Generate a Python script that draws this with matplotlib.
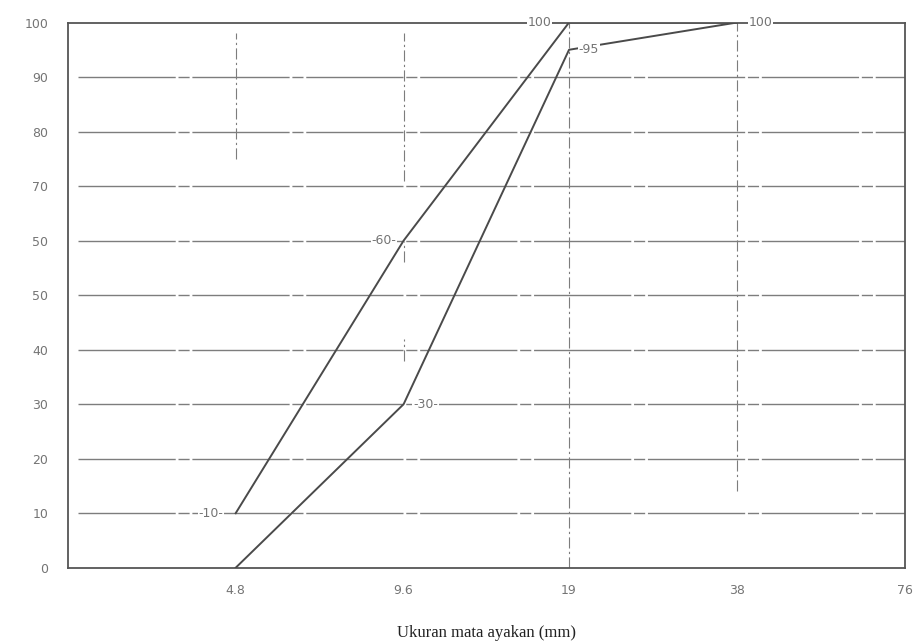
import matplotlib.pyplot as plt

# Data gradasi (batas atas dan batas bawah)
ukuran = [4.8, 9.6, 19, 38]
batas_atas = [10, 60, 100, 100]
batas_bawah = [0, 30, 95, 100]

x_ticks = [4.8, 9.6, 19, 38, 76]
x_tick_labels = ['4.8', '9.6', '19', '38', '76']
y_ticks = [0, 10, 20, 30, 40, 50, 60, 70, 80, 90, 100]
y_tick_labels = ['0', '10', '20', '30', '40', '50', '50', '70', '80', '90', '100']

# potongan garis vertikal yang terlihat (x, y bawah, y atas)
garis_vertikal = [
    (4.8, 75, 98),
    (9.6, 71, 98),
    (9.6, 56, 60),
    (9.6, 38, 42),
    (19, 0, 100),
    (38, 14, 100),
]

fig = plt.figure(figsize=(9.15, 6.43), dpi=100)
ax = fig.add_axes([0.074, 0.117, 0.915, 0.848])

grid_col = '#7d7d7d'
line_col = '#4a4a4a'
text_col = '#747474'

# garis horizontal
for y in y_ticks[1:-1]:
    ax.plot([2.5, 76], [y, y], color=grid_col, lw=1.0,
            ls=(0, (70, 2, 8, 2)), zorder=1)

# garis vertikal
for x, y0, y1 in garis_vertikal:
    ax.plot([x, x], [y0, y1], color=grid_col, lw=0.8,
            ls=(0, (10, 3, 2, 3)), zorder=1)

ax.plot(ukuran, batas_atas, color=line_col, lw=1.4, zorder=3)
ax.plot(ukuran, batas_bawah, color=line_col, lw=1.4, zorder=3)

# label nilai
lab = dict(color=text_col, fontsize=9, zorder=4,
           bbox=dict(facecolor='white', edgecolor='none', pad=0.5))
ax.text(ukuran[0] * 0.95, batas_atas[0], '-' + str(batas_atas[0]) + '-', ha='right', va='center', **lab)
ax.text(ukuran[1] * 0.97, batas_atas[1], '-' + str(batas_atas[1]) + '-', ha='right', va='center', **lab)
ax.text(ukuran[2] * 0.93, batas_atas[2], str(batas_atas[2]), ha='right', va='center', **lab)
ax.text(ukuran[1] * 1.04, batas_bawah[1], '-' + str(batas_bawah[1]) + '-', ha='left', va='center', **lab)
ax.text(ukuran[2] * 1.04, batas_bawah[2], '-' + str(batas_bawah[2]), ha='left', va='center', **lab)
ax.text(ukuran[3] * 1.05, batas_bawah[3], str(batas_bawah[3]), ha='left', va='center', **lab)

ax.set_xscale('log', base=2)
ax.set_xlim(2.4, 76)
ax.set_ylim(0, 100)
ax.set_xticks(x_ticks)
ax.set_xticklabels(x_tick_labels)
ax.set_yticks(y_ticks)
ax.set_yticklabels(y_tick_labels)
ax.minorticks_off()
ax.tick_params(length=0, colors=text_col, labelsize=9)
ax.tick_params(axis='x', pad=12)
ax.tick_params(axis='y', pad=14)
for s in ax.spines.values():
    s.set_color('#555555')
    s.set_linewidth(1.3)

ax.set_xlabel('Ukuran mata ayakan (mm)', family='Liberation Serif', fontsize=12,
              color='#222222', labelpad=20)

plt.savefig('out.png', dpi=100)
